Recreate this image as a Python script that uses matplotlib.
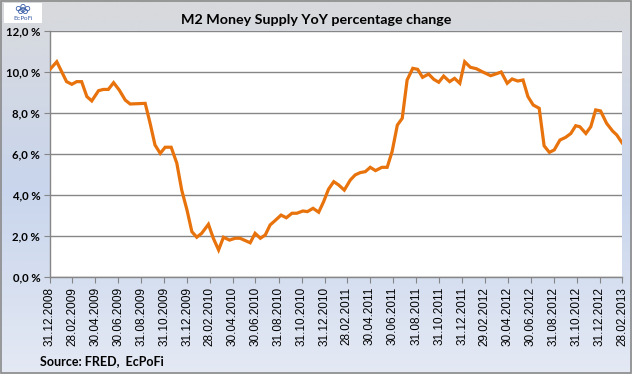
import numpy as np
import pandas as pd
import matplotlib
matplotlib.use("Agg")
import matplotlib.pyplot as plt
import matplotlib.dates as mdates
from matplotlib.ticker import FuncFormatter, MultipleLocator
from matplotlib.colors import LinearSegmentedColormap

# M2 YoY change
dates = [
    "2009-01-01", "2009-01-18", "2009-02-13", "2009-02-27", "2009-03-12", "2009-03-25",
    "2009-04-08", "2009-04-21", "2009-05-09", "2009-05-22", "2009-06-04", "2009-06-18",
    "2009-07-03", "2009-07-19", "2009-08-01", "2009-09-10", "2009-09-23", "2009-10-06",
    "2009-10-20", "2009-11-02", "2009-11-18", "2009-12-03", "2009-12-16", "2009-12-30",
    "2010-01-12", "2010-01-25", "2010-02-07", "2010-02-25", "2010-03-10", "2010-03-24",
    "2010-04-06", "2010-04-22", "2010-05-07", "2010-05-20", "2010-06-16", "2010-06-29",
    "2010-07-13", "2010-07-26", "2010-08-08", "2010-08-21", "2010-09-06", "2010-09-20",
    "2010-10-05", "2010-10-18", "2010-11-03", "2010-11-15", "2010-11-30", "2010-12-15",
    "2010-12-28", "2011-01-10", "2011-01-24", "2011-02-06", "2011-02-21", "2011-03-09",
    "2011-03-22", "2011-04-04", "2011-04-18", "2011-05-01", "2011-05-15", "2011-06-01",
    "2011-06-15", "2011-06-28", "2011-07-12", "2011-07-25", "2011-08-07", "2011-08-22",
    "2011-09-04", "2011-09-17", "2011-10-03", "2011-10-17", "2011-10-30", "2011-11-12",
    "2011-11-28", "2011-12-11", "2011-12-25", "2012-01-07", "2012-01-22", "2012-02-07",
    "2012-02-23", "2012-03-16", "2012-03-29", "2012-04-13", "2012-04-29", "2012-05-12",
    "2012-05-27", "2012-06-10", "2012-06-23", "2012-07-07", "2012-07-23", "2012-08-05",
    "2012-08-19", "2012-09-01", "2012-09-16", "2012-10-01", "2012-10-15", "2012-10-28",
    "2012-11-08", "2012-11-24", "2012-12-07", "2012-12-20", "2013-01-02", "2013-01-18",
    "2013-02-03", "2013-02-14", "2013-02-28",
]
m2_yoy = [
    10.15, 10.50, 9.53, 9.40, 9.53, 9.53,
    8.80, 8.59, 9.09, 9.15, 9.15, 9.48,
    9.12, 8.63, 8.44, 8.47, 7.50, 6.44,
    6.03, 6.33, 6.33, 5.55, 4.24, 3.27,
    2.21, 1.94, 2.13, 2.57, 1.89, 1.32,
    1.94, 1.80, 1.89, 1.89, 1.67, 2.13,
    1.89, 2.05, 2.54, 2.75, 3.02, 2.89,
    3.11, 3.11, 3.22, 3.19, 3.35, 3.16,
    3.67, 4.28, 4.65, 4.49, 4.24, 4.73,
    4.98, 5.09, 5.14, 5.35, 5.19, 5.35,
    5.35, 6.11, 7.41, 7.74, 9.61, 10.18,
    10.13, 9.74, 9.90, 9.64, 9.50, 9.80,
    9.53, 9.69, 9.45, 10.50, 10.23, 10.16,
    10.01, 9.82, 9.90, 10.00, 9.45, 9.66,
    9.56, 9.61, 8.80, 8.39, 8.23, 6.40,
    6.08, 6.20, 6.68, 6.81, 7.00, 7.38,
    7.33, 7.00, 7.33, 8.15, 8.10, 7.50,
    7.12, 6.93, 6.55,
]
# x ticks: every second month end
tick_dates = pd.date_range("2008-12-31", "2013-02-28", freq="2ME")

title = "M2 Money Supply YoY percentage change"
source = "Source: FRED,  EcPoFi"

x = pd.to_datetime(dates)

fig = plt.figure(figsize=(6.32, 3.74), dpi=100)

# gradient background like the excel chart area
bg = fig.add_axes([0, 0, 1, 1], zorder=-5)
cmap = LinearSegmentedColormap.from_list(
    "bg", [(0.0, "#d8d9dc"), (0.15, "#d5d9e2"), (0.5, "#c8d5ec"), (1.0, "#e4e9f4")])
grad = np.linspace(0, 1, 256).reshape(-1, 1)
bg.imshow(grad, aspect="auto", cmap=cmap, extent=[0, 1, 0, 1])
bg.add_patch(plt.Rectangle((0.001, 0.002), 0.997, 0.995, fill=False,
                           edgecolor="#8a8a8a", lw=1.2, transform=bg.transAxes))
bg.set_axis_off()

# small logo box
logo = fig.add_axes([4 / 632, 1 - 23 / 374, 38 / 632, 20 / 374], zorder=-4)
logo.set_facecolor("white")
logo.set_xlim(0, 1)
logo.set_ylim(0, 1)
logo.scatter([0.38, 0.5, 0.62, 0.44, 0.56, 0.5], [0.72, 0.82, 0.72, 0.58, 0.58, 0.66],
             s=10, facecolors="none", edgecolors="#3b5fa8", lw=0.6)
logo.text(0.5, 0.12, "EcPoFi", ha="center", va="bottom", fontsize=4.5, color="#3b5fa8",
          family="DejaVu Sans")
logo.set_xticks([])
logo.set_yticks([])
for s in logo.spines.values():
    s.set_visible(False)

ax = fig.add_axes([50 / 632, 97 / 374, 572 / 632, 246 / 374])
ax.set_facecolor("white")
ax.plot(x, m2_yoy, color="#e8720c", lw=2.3, solid_joinstyle="miter", zorder=3)

ax.set_ylim(0, 12)
ax.yaxis.set_major_locator(MultipleLocator(2))
ax.yaxis.set_major_formatter(FuncFormatter(lambda v, p: f"{v:.1f} %".replace(".", ",")))
ax.grid(axis="y", color="#868686", lw=1.0)
ax.set_axisbelow(True)

ax.set_xlim(pd.Timestamp("2008-12-31"), pd.Timestamp("2013-02-28"))
ax.set_xticks(tick_dates)
ax.xaxis.set_major_formatter(mdates.DateFormatter("%d.%m.%Y"))

for side in ["top", "right"]:
    ax.spines[side].set_visible(False)
for side in ["left", "bottom"]:
    ax.spines[side].set_color("#868686")
    ax.spines[side].set_linewidth(1.0)

ax.tick_params(axis="x", direction="out", length=4, color="#868686", pad=3,
               labelrotation=90, labelsize=8.5)
ax.tick_params(axis="y", direction="out", length=4, color="#868686", pad=3, labelsize=8.2)
for lab in ax.get_xticklabels():
    lab.set_family("Liberation Sans")
for lab in ax.get_yticklabels():
    lab.set_family("Lato")
    lab.set_fontweight("bold")

fig.text(0.5, 1 - 20 / 374, title, ha="center", va="center", fontsize=10.3,
         fontweight="bold", family="Lato")
fig.text(40 / 632, 1 - 361 / 374, source, ha="left", va="center", fontsize=9,
         fontweight="bold", family="Lato")

fig.savefig("out.png", dpi=100)
